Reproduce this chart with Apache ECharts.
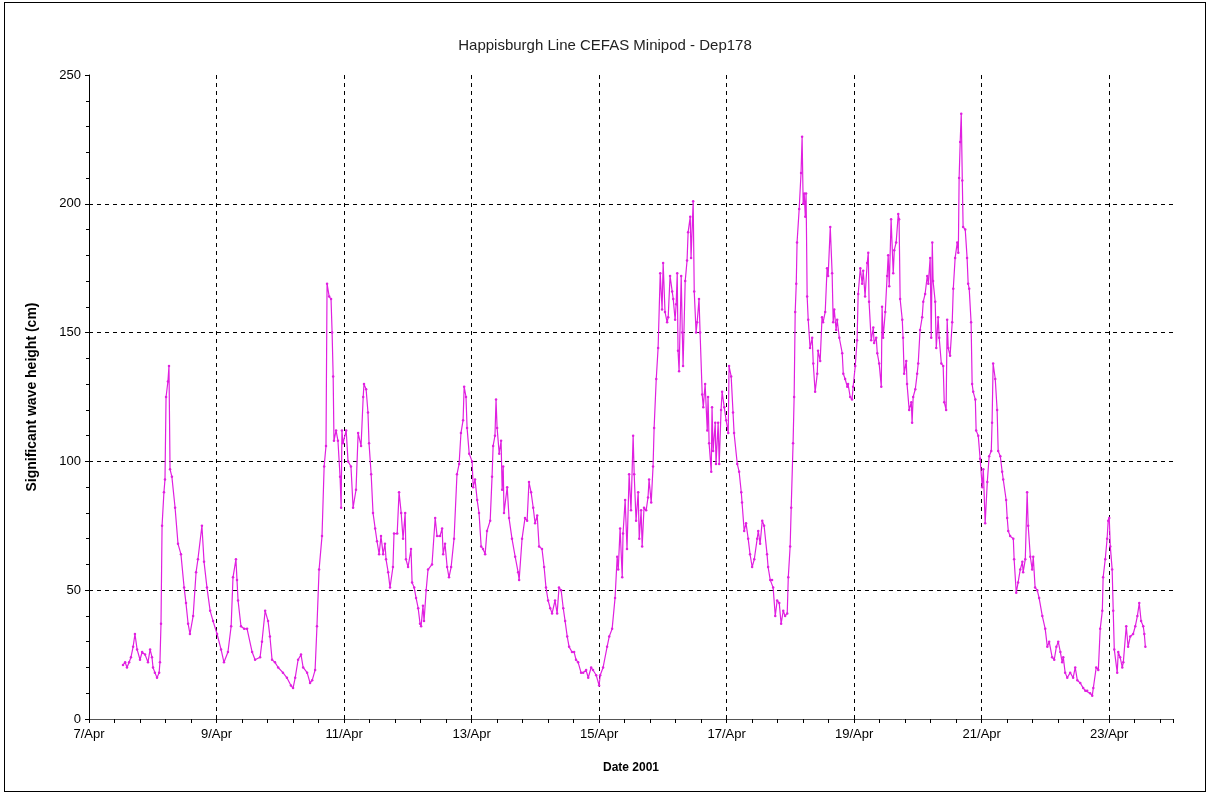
<!DOCTYPE html>
<html>
<head>
<meta charset="utf-8">
<script src="https://cdn.jsdelivr.net/npm/echarts@6/dist/echarts.min.js"></script>
<style>
html,body{margin:0;padding:0;background:#fff;}
#wrap{position:relative;width:1210px;height:796px;}
#frame{position:absolute;left:4px;top:2px;width:1202px;height:790px;border:1px solid #000;box-sizing:border-box;pointer-events:none;}
#chart{position:absolute;left:0;top:0;width:1210px;height:796px;}
</style>
</head>
<body>
<div id="wrap"><div id="chart"></div><div id="frame"></div></div>
<script>
// Hours elapsed since 7 Apr 2001 00:00
const hours = [
12.8,13.6,14.3,15.1,15.8,16.6,17.3,18.1,19.2,20.0,21.1,22.2,23.0,23.7,24.1,24.8,25.6,26.4,26.7,27.1,
27.5,28.2,28.6,29.0,29.7,30.1,30.5,31.2,32.4,33.5,34.6,35.8,36.5,37.3,38.0,39.2,40.3,41.0,42.5,43.3,
44.4,45.6,46.7,48.2,49.7,50.8,52.3,53.5,54.2,55.3,55.7,56.1,57.2,58.4,59.5,61.4,62.5,64.4,65.1,66.3,
67.4,68.1,68.9,70.0,71.2,73.0,74.5,76.0,76.8,77.6,78.7,79.8,80.6,82.1,83.2,84.0,85.1,85.8,86.6,87.7,
88.5,89.2,89.6,90.4,91.1,91.5,91.9,92.2,93.0,93.7,94.5,94.9,95.2,95.6,96.8,97.5,98.6,99.4,100.5,101.3,
102.4,103.2,103.5,104.3,105.0,105.4,106.2,106.9,107.7,108.4,109.2,109.9,110.7,111.4,111.8,112.6,113.3,114.4,114.8,116.0,
116.7,117.5,118.2,119.0,119.3,120.1,121.2,121.6,122.4,123.1,123.9,124.6,125.0,125.7,126.1,126.9,127.6,129.1,130.3,131.0,
132.1,132.9,133.3,134.0,134.8,135.5,136.3,137.4,138.5,139.3,140.0,140.8,141.2,141.9,142.3,143.1,144.2,144.6,145.3,146.1,
146.8,147.6,148.3,149.1,149.8,151.0,151.7,152.1,152.8,153.2,153.6,154.4,155.1,155.5,155.9,156.2,157.4,158.1,159.2,160.4,
161.5,161.9,163.0,164.1,164.9,165.6,166.4,167.2,167.9,168.7,169.4,170.5,171.3,172.0,172.8,173.6,174.3,175.4,176.2,176.9,
177.7,178.5,179.2,180.0,180.7,181.8,182.6,183.3,184.1,185.2,186.0,187.1,187.9,189.0,189.7,190.9,192.0,192.4,193.5,195.0,
195.8,196.9,198.0,198.8,199.2,199.9,200.7,201.0,201.8,202.5,203.3,204.0,204.8,205.2,205.9,206.7,207.1,207.8,208.2,208.9,
209.7,210.4,210.8,211.6,212.3,212.7,213.5,214.2,215.0,215.7,216.1,216.8,217.6,218.0,218.7,219.5,219.9,220.6,221.0,221.4,
221.7,222.1,222.9,223.3,223.6,224.4,225.1,225.5,226.3,226.6,227.4,227.8,228.5,228.9,229.6,230.0,230.8,231.2,231.9,232.7,
233.0,233.4,234.2,234.5,234.9,235.7,236.0,236.8,237.2,237.9,238.3,239.1,239.8,240.6,240.9,241.7,242.4,242.8,244.0,244.7,
245.5,245.8,246.6,247.3,248.1,248.8,249.6,250.4,251.5,251.9,252.6,253.4,254.1,255.2,255.6,256.4,257.1,257.5,258.3,259.0,
259.8,260.5,261.3,262.0,262.8,263.2,263.9,264.3,265.0,265.4,265.8,266.2,266.5,267.3,268.0,268.4,268.8,269.2,269.6,269.9,
270.3,270.7,271.4,272.2,272.6,273.3,274.1,274.4,275.2,275.9,276.3,277.1,277.8,278.2,279.0,279.7,280.1,280.5,281.2,281.6,
282.4,283.5,283.9,284.6,285.4,285.7,286.5,287.2,287.6,288.4,289.1,289.5,290.3,291.0,291.4,292.1,292.9,293.3,293.6,294.4,
295.2,295.5,296.3,296.7,297.4,298.2,298.5,298.9,299.7,300.4,300.8,301.2,301.9,302.7,303.1,303.8,304.6,304.9,305.3,306.1,
306.4,306.8,307.6,307.9,308.7,309.5,309.8,310.2,311.0,311.7,312.1,312.8,313.6,314.0,314.7,315.5,315.9,316.6,317.0,317.4,
317.7,318.5,318.9,319.6,320.0,320.8,321.5,321.9,322.6,323.0,323.4,324.1,324.9,325.3,326.0,326.8,327.2,327.5,327.9,328.3,
328.7,329.0,329.8,330.5,330.9,331.3,332.0,332.4,332.8,333.6,333.9,334.7,335.4,336.2,336.6,337.3,338.1,338.8,339.6,339.9,
340.3,341.1,341.8,342.2,343.0,343.7,344.1,345.2,345.6,346.0,346.7,347.9,348.2,349.0,349.7,350.5,351.3,351.6,352.4,353.1,
353.5,354.3,355.0,355.4,356.1,356.9,357.6,358.8,359.9,360.7,361.4,362.5,363.3,364.1,364.8,365.6,366.3,366.7,367.4,368.2,
369.3,370.4,371.2,372.0,373.1,374.2,375.0,375.7,376.8,377.6,378.0,379.1,379.9,380.6,381.4,381.7,382.5,383.2,383.6,384.0,
384.4,385.1,385.5,385.9,387.0,387.4,388.1,388.9,389.3,390.4,391.1,391.9,393.0,393.8,394.6,395.3,396.0,396.8,397.2,397.6
];
// Significant wave height (cm)
const waveHeight = [
21,22,20,22,24,28,33,27,23,26,25,22,27,24,20,18,16,18,22,37,
75,88,93,125,131,137,97,94,82,68,64,51,45,37,33,40,57,62,75,61,
51,42,38,33,27,22,26,36,55,62,54,46,36,35,35,26,23,24,30,42,
38,32,23,22,20,18,16,13,12,16,23,25,20,18,14,15,19,36,58,71,
98,106,169,164,163,150,133,108,112,108,94,82,112,107,112,100,98,82,89,111,
106,125,130,128,119,107,95,80,74,69,64,71,64,68,62,57,51,59,72,72,
88,80,70,80,62,59,66,53,51,47,43,37,36,44,38,50,58,60,78,71,
71,74,64,68,59,55,59,70,95,99,111,116,129,125,113,103,100,90,93,85,
80,67,66,64,73,77,94,106,110,124,113,103,108,89,98,80,90,78,70,63,
57,54,70,78,77,92,88,82,76,79,67,66,59,51,46,43,41,46,41,51,
50,43,38,32,28,26,26,23,22,18,18,19,16,20,19,17,13,17,20,28,
32,35,47,63,58,74,55,72,85,66,95,81,110,95,77,88,70,81,67,82,
81,86,93,84,98,113,132,144,173,159,177,158,154,156,172,166,163,155,161,173,
143,135,172,150,137,170,178,189,195,179,201,166,150,154,163,150,126,121,130,112,
125,107,96,121,104,115,99,115,99,120,127,121,116,111,137,133,119,111,99,96,
88,84,73,76,70,64,59,62,70,73,68,77,75,64,59,54,54,51,40,46,
45,37,42,40,41,55,67,82,107,125,158,169,185,198,212,226,200,204,195,204,
164,155,144,148,138,127,134,143,139,156,154,158,175,172,191,173,154,159,151,155,
148,142,134,132,129,130,125,124,129,137,147,165,175,169,174,164,177,181,162,147,
152,146,148,142,138,129,160,148,158,172,180,168,194,173,182,185,196,194,163,155,
148,134,139,130,120,123,115,125,128,134,138,151,156,162,165,172,169,179,148,185,
170,162,144,156,148,138,137,123,120,155,144,141,154,167,179,185,181,210,224,235,
209,191,190,179,169,167,154,130,127,124,112,110,101,90,97,76,92,102,104,115,
138,132,120,104,102,96,93,85,78,73,71,70,62,49,53,58,61,57,62,88,
75,63,58,63,51,50,47,40,35,28,30,24,23,28,30,26,22,24,18,16,
18,16,20,15,14,12,11,11,10,9,12,20,19,35,42,55,62,70,77,78,
67,58,42,27,18,26,24,20,22,36,28,32,33,36,40,45,38,36,33,28
];
const yTicks = [0, 50, 100, 150, 200, 250];
const dayTicksStart = 7; // 7/Apr
const monthLabel = 'Apr';

const seriesData = hours.map((h, i) => [h, waveHeight[i]]);
const font = "'Liberation Sans', Arial, sans-serif";

const chart = echarts.init(document.getElementById('chart'), null, {renderer: 'canvas'});
chart.setOption({
  animation: false,
  backgroundColor: '#fff',
  title: {
    text: 'Happisburgh Line CEFAS Minipod - Dep178',
    left: 'center', top: 33,
    textStyle: {fontFamily: font, fontSize: 15, fontWeight: 'normal', color: '#222'}
  },
  grid: {left: 89, top: 75, right: 37, bottom: 77, containLabel: false},
  xAxis: {
    type: 'value', min: 0, max: 408, interval: 48,
    name: 'Date 2001', nameLocation: 'middle', nameGap: 43,
    nameTextStyle: {fontFamily: font, fontSize: 12, fontWeight: 'bold', color: '#000'},
    axisLine: {show: true, lineStyle: {color: '#555', width: 1}},
    axisTick: {show: true, inside: false, length: 4, lineStyle: {color: '#000'}},
    minorTick: {show: true, splitNumber: 5, length: 4, lineStyle: {color: '#000'}},
    axisLabel: {
      fontFamily: font, fontSize: 13, color: '#000', margin: 9, showMaxLabel: false,
      formatter: v => (dayTicksStart + Math.round(v / 24)) + '/' + monthLabel
    },
    splitLine: {show: true, showMinLine: false, showMaxLine: false, lineStyle: {color: '#000', type: [4, 4], width: 1}}
  },
  yAxis: {
    type: 'value', min: yTicks[0], max: yTicks[yTicks.length - 1], interval: 50,
    name: 'Significant wave height (cm)', nameLocation: 'middle', nameGap: 50,
    nameTextStyle: {fontFamily: font, fontSize: 14, fontWeight: 'bold', color: '#000'},
    axisLine: {show: true, lineStyle: {color: '#000', width: 1}},
    axisTick: {show: true, length: 4, lineStyle: {color: '#000'}},
    minorTick: {show: true, splitNumber: 5, length: 3, lineStyle: {color: '#000'}},
    axisLabel: {fontFamily: font, fontSize: 13, color: '#000', margin: 8},
    splitLine: {show: true, showMinLine: false, showMaxLine: false, lineStyle: {color: '#000', type: [4, 4], width: 1}}
  },
  series: [{
    type: 'line',
    data: seriesData,
    showSymbol: true,
    symbol: 'circle',
    symbolSize: 2.5,
    itemStyle: {color: '#e020e0'},
    lineStyle: {color: '#e020e0', width: 1.2},
    silent: true
  }]
});
</script>
</body>
</html>
